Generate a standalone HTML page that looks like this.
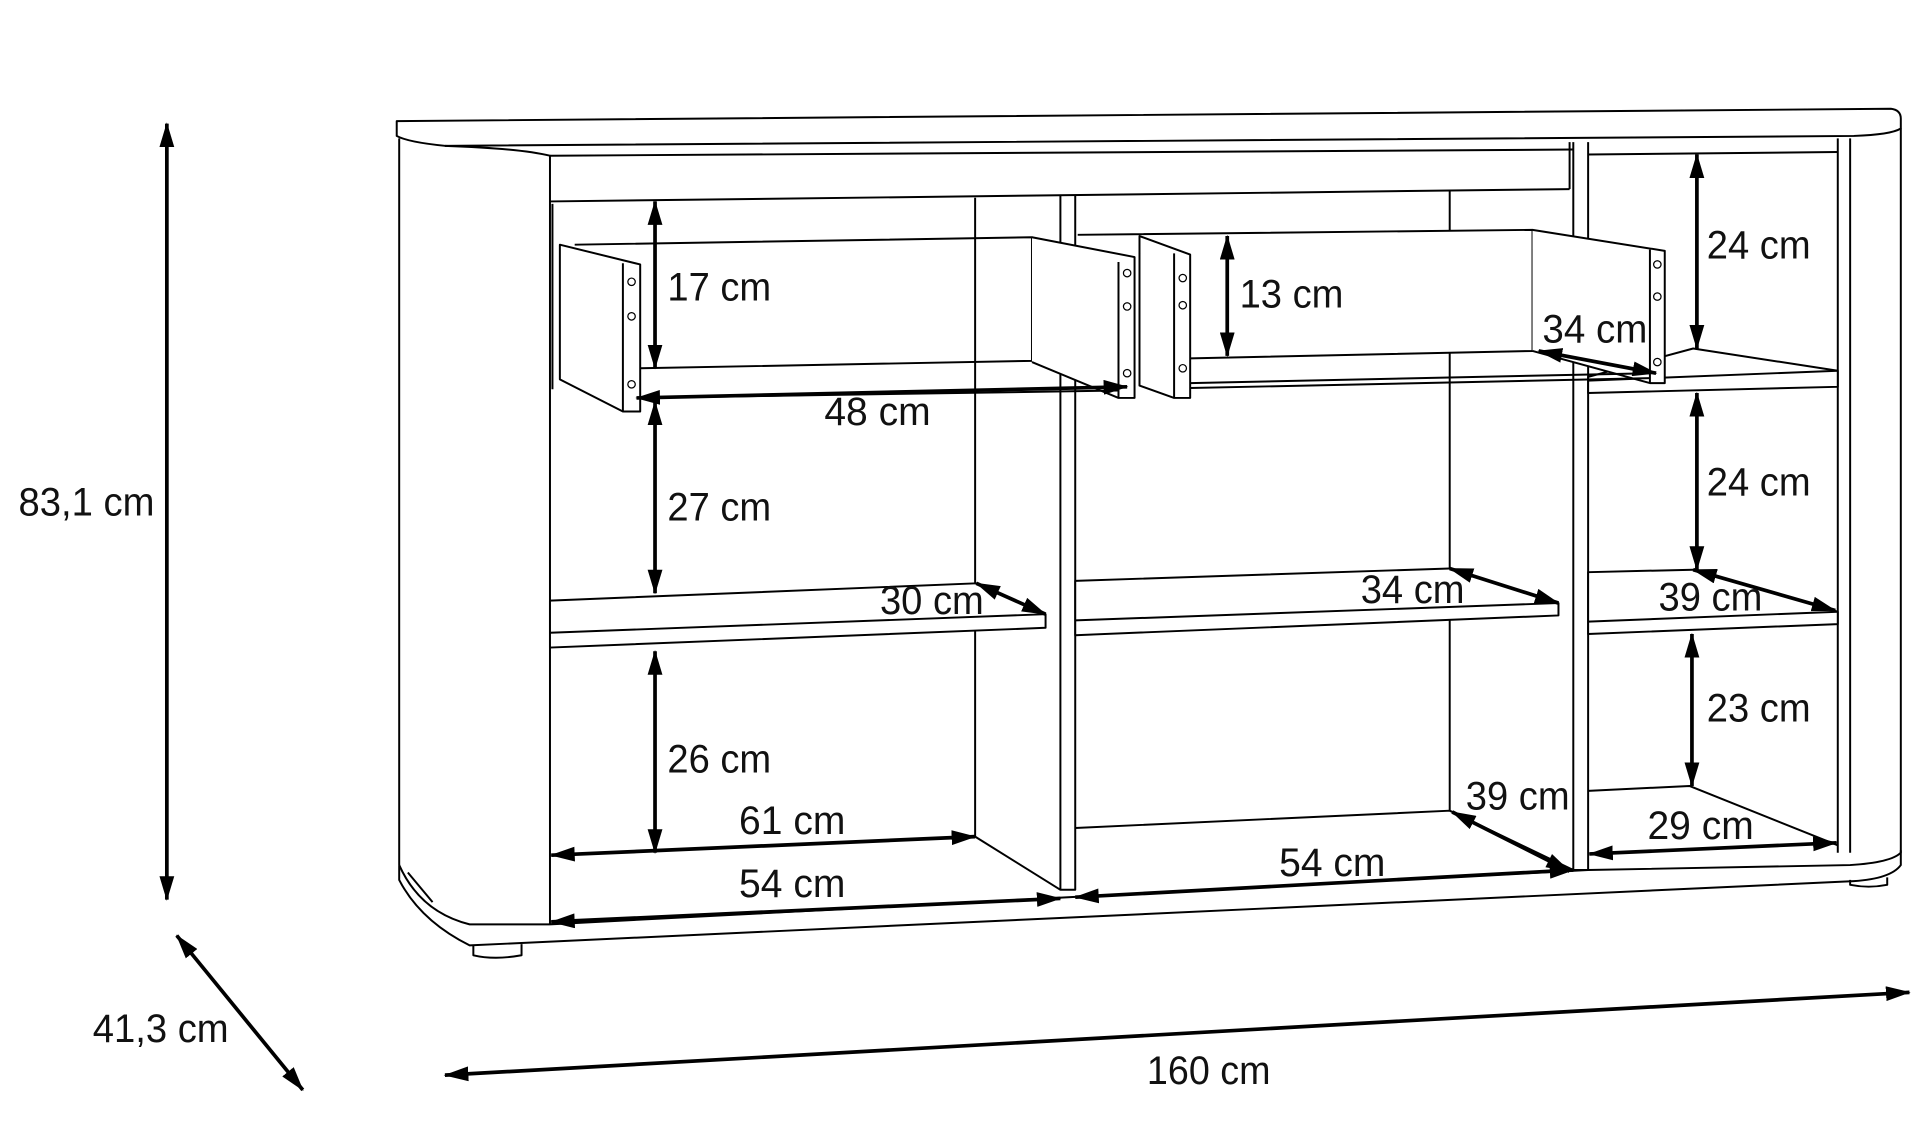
<!DOCTYPE html>
<html><head><meta charset="utf-8"><style>
html,body{margin:0;padding:0;background:#fff;}
svg{display:block;}
text{font-family:"Liberation Sans",sans-serif;font-size:32px;fill:#111;}
</style></head><body>
<svg width="1928" height="1132" viewBox="0 0 1560 916" preserveAspectRatio="none" xmlns="http://www.w3.org/2000/svg">
<defs>
<marker id="a" viewBox="0 0 20 12" refX="19" refY="6" markerWidth="20" markerHeight="12" markerUnits="userSpaceOnUse" orient="auto-start-reverse">
<path d="M0,0 L20,6 L0,12 z" fill="#000"/></marker>
</defs>
<g fill="none" stroke="#000" stroke-width="1.6" stroke-linejoin="round">
<path d="M321,98 L1530,88 Q1538,89 1538,96 L1538,104 Q1530,109 1500,110 L360,118 Q330,115 321,110 Z" fill="#fff"/>
<path d="M323,112 L323,700"/>
<path d="M360,118 Q420,120 445,126 L445,748"/>
<path d="M323,700 L323,712 Q340,745 380,765 L1500,713 Q1530,711 1538,700 L1538,688"/>
<path d="M323,700 Q340,738 380,748 L445,748"/>
<path d="M330,706 L350,730"/>
<path d="M383,765 L383,773 Q400,777 422,773 L422,764"/>
<path d="M1497,712 L1497,716 Q1512,719 1527,716 L1527,710"/>
<path d="M1487,112 L1487,690"/>
<path d="M1497,112 L1497,690"/>
<path d="M1538,104 L1538,690 Q1530,698 1497,700 L1285,704"/>
<path d="M445,126 L1273,121"/>
<path d="M445,163 L1270,153"/>
<path d="M1270,115 L1270,153"/>
<path d="M1285,125 L1487,123"/>
<path d="M789,160 L789,677"/>
<path d="M1173,154 L1173,656"/>
<path d="M858,158 L858,720 L870,720 L870,158"/>
<path d="M1273,115 L1273,704 L1285,704 L1285,115"/>
<path d="M447,165 L447,315"/>
<path d="M445,748 L1285,704"/>
<path d="M870,670 L1173,656 L1273,704"/>
<path d="M789,677 L858,720"/>
<path d="M1285,640 L1367,636 L1487,684"/>
<path d="M445,486 L790,472 L846,497 L846,508 L445,524 Z" fill="#fff"/>
<path d="M445,512 L846,497"/>
<path d="M870,470 L1173,460 L1261,488 L1261,498 L870,514 Z" fill="#fff"/>
<path d="M870,502 L1261,488"/>
<path d="M1285,463 L1370,461 L1487,495 L1487,505 L1285,513 Z" fill="#fff"/>
<path d="M1285,503 L1487,495"/>
<path d="M1285,305 L1370,282 L1487,300 L1487,313 L1285,318 Z" fill="#fff"/>
<path d="M1285,308 L1487,300"/>
<!-- drawer 2 -->
<path d="M872,190 L1240,186 L1240,284 L963,290" fill="#fff"/>
<path d="M1240,186 L1347,203 L1347,310 L1335,310 L1240,284" fill="#fff"/>
<path d="M1335,202 L1335,310"/>
<path d="M963,310 L1335,302"/>
<path d="M963,314 L1335,306"/>
<!-- drawer 1 -->
<path d="M465,198 L835,192 L835,292 L518,298"/>
<path d="M835,192 L918,208 L918,322 L905,322 L835,293" fill="#fff"/>
<path d="M905,212 L905,322"/>
<path d="M453,198 L518,214 L518,333 L504,333 L453,307 Z" fill="#fff"/>
<path d="M504,213 L504,333"/>
<path d="M518,322 L905,316"/>
<!-- drawer 2 left panel -->
<path d="M922,191 L963,206 L963,322 L950,322 L922,312 Z" fill="#fff"/>
<path d="M950,205 L950,322"/>
<g stroke-width="1">
<circle cx="511" cy="228" r="3"/><circle cx="511" cy="256" r="3"/><circle cx="511" cy="311" r="3"/>
<circle cx="912" cy="221" r="3"/><circle cx="912" cy="248" r="3"/><circle cx="912" cy="302" r="3"/>
<circle cx="957" cy="225" r="3"/><circle cx="957" cy="247" r="3"/><circle cx="957" cy="298" r="3"/>
<circle cx="1341" cy="214" r="3"/><circle cx="1341" cy="240" r="3"/><circle cx="1341" cy="293" r="3"/>
</g>
</g>
<g stroke="#000" stroke-width="3" fill="none" marker-start="url(#a)" marker-end="url(#a)">
<line x1="135" y1="100" x2="135" y2="728"/>
<line x1="143" y1="757" x2="245" y2="882"/>
<line x1="360" y1="870" x2="1545" y2="803"/>
<line x1="530" y1="163" x2="530" y2="298"/>
<line x1="993" y1="191" x2="993" y2="288"/>
<line x1="1373" y1="125" x2="1373" y2="282"/>
<line x1="1373" y1="318" x2="1373" y2="461"/>
<line x1="1369" y1="513" x2="1369" y2="636"/>
<line x1="530" y1="325" x2="530" y2="480"/>
<line x1="530" y1="527" x2="530" y2="690"/>
<line x1="515" y1="322" x2="912" y2="313"/>
<line x1="1245" y1="284" x2="1340" y2="302"/>
<line x1="790" y1="472" x2="846" y2="497"/>
<line x1="1173" y1="460" x2="1261" y2="488"/>
<line x1="1370" y1="461" x2="1485" y2="494"/>
<line x1="446" y1="692" x2="789" y2="677"/>
<line x1="446" y1="746" x2="858" y2="727"/>
<line x1="870" y1="726" x2="1273" y2="704"/>
<line x1="1175" y1="657" x2="1270" y2="705"/>
<line x1="1286" y1="691" x2="1486" y2="682"/>
</g>
<g lengthAdjust="spacingAndGlyphs">
<text x="15" y="417" textLength="110" lengthAdjust="spacingAndGlyphs">83,1 cm</text>
<text x="75" y="843" textLength="110" lengthAdjust="spacingAndGlyphs">41,3 cm</text>
<text x="928" y="877" textLength="100" lengthAdjust="spacingAndGlyphs">160 cm</text>
<text x="540" y="243" textLength="84" lengthAdjust="spacingAndGlyphs">17 cm</text>
<text x="1003" y="249" textLength="84" lengthAdjust="spacingAndGlyphs">13 cm</text>
<text x="667" y="344" textLength="86" lengthAdjust="spacingAndGlyphs">48 cm</text>
<text x="1381" y="209" textLength="84" lengthAdjust="spacingAndGlyphs">24 cm</text>
<text x="1248" y="277" textLength="85" lengthAdjust="spacingAndGlyphs">34 cm</text>
<text x="1381" y="401" textLength="84" lengthAdjust="spacingAndGlyphs">24 cm</text>
<text x="540" y="421" textLength="84" lengthAdjust="spacingAndGlyphs">27 cm</text>
<text x="712" y="497" textLength="84" lengthAdjust="spacingAndGlyphs">30 cm</text>
<text x="1101" y="488" textLength="84" lengthAdjust="spacingAndGlyphs">34 cm</text>
<text x="1342" y="494" textLength="84" lengthAdjust="spacingAndGlyphs">39 cm</text>
<text x="1381" y="584" textLength="84" lengthAdjust="spacingAndGlyphs">23 cm</text>
<text x="540" y="625" textLength="84" lengthAdjust="spacingAndGlyphs">26 cm</text>
<text x="1186" y="655" textLength="84" lengthAdjust="spacingAndGlyphs">39 cm</text>
<text x="598" y="675" textLength="86" lengthAdjust="spacingAndGlyphs">61 cm</text>
<text x="1333" y="679" textLength="86" lengthAdjust="spacingAndGlyphs">29 cm</text>
<text x="598" y="726" textLength="86" lengthAdjust="spacingAndGlyphs">54 cm</text>
<text x="1035" y="709" textLength="86" lengthAdjust="spacingAndGlyphs">54 cm</text>
</g>
</svg>
</body></html>
